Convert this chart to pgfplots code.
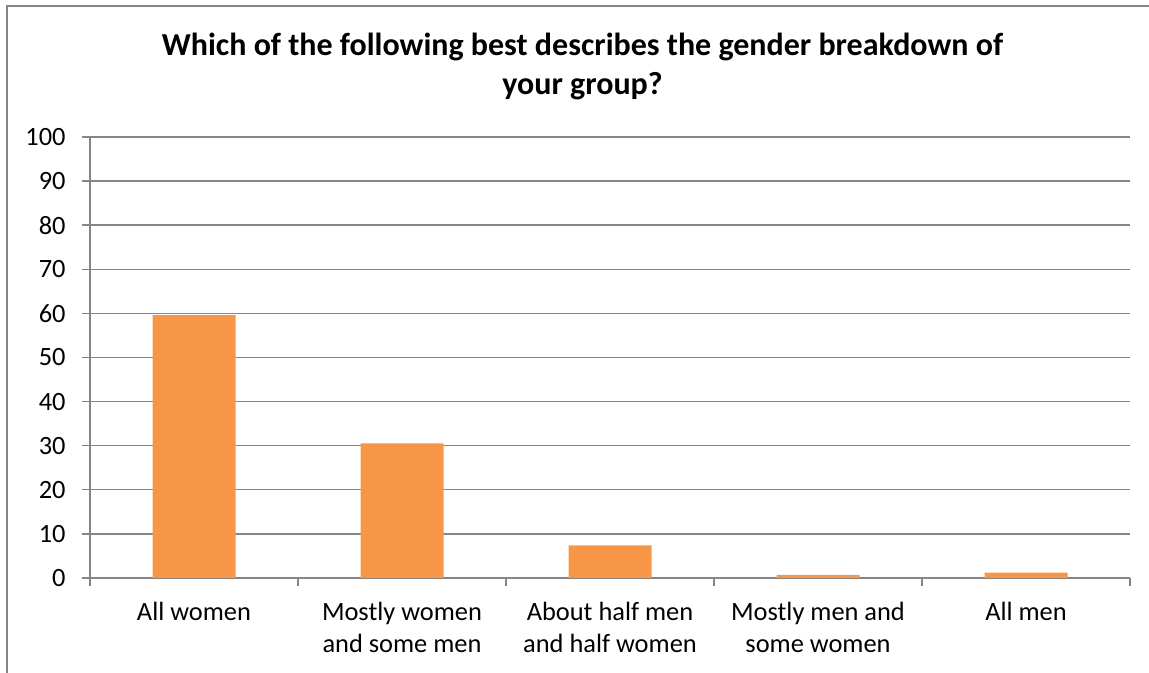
\documentclass[border=0pt]{standalone}
\usepackage{pgfplots}
\pgfplotsset{compat=1.18}
\usepackage{fontspec}
\setmainfont{Carlito}
\definecolor{barorange}{HTML}{F79646}
\definecolor{gridgray}{HTML}{868686}
\begin{document}
\begin{tikzpicture}
\path[use as bounding box] (0,0) rectangle (574.5pt,336.5pt);
\draw[gridgray, line width=0.9pt] (3.5pt,0) -- (3.5pt,333.5pt) -- (574.5pt,333.5pt);
\node[anchor=base, align=center, font=\bfseries\fontsize{16}{19.5}\selectfont] at (291.25pt,289pt)
  {Which of the following best describes the gender breakdown of\\your group?};
\begin{axis}[
  at={(45pt,47.5pt)}, anchor=south west,
  scale only axis, width=520pt, height=220.5pt,
  ymin=0, ymax=100, ytick={0,10,...,100},
  xmin=0.5, xmax=5.5, xtick={0.5,1.5,...,5.5},
  x tick label as interval,
  xticklabels={All women, Mostly women\\and some men, About half men\\and half women, Mostly men and\\some women, All men},
  ymajorgrids,
  grid style={gridgray, line width=0.7pt},
  axis line style={gridgray, line width=0.7pt},
  tick style={gridgray, line width=0.7pt},
  tick align=outside, major tick length=4pt,
  axis x line*=bottom, axis y line*=left,
  /pgf/number format/assume math mode=true,
  tick label style={font=\fontsize{13.2}{16}\selectfont, text=black},
  yticklabel style={anchor=east, inner sep=0pt, xshift=-8pt},
  xticklabel style={align=center, anchor=north, inner sep=0pt, yshift=-8pt},
]
\addplot[ybar, bar width=41.5pt, fill=barorange, draw=none]
  coordinates {(1,59.6) (2,30.5) (3,7.4) (4,0.7) (5,1.2)};
\end{axis}
\end{tikzpicture}
\end{document}
